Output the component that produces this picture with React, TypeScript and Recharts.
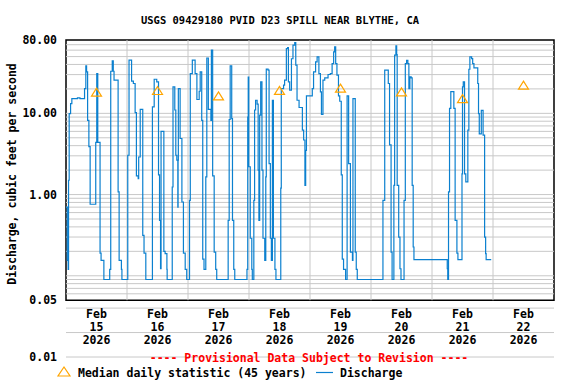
import { ComposedChart, Line, Scatter, XAxis, YAxis, ReferenceLine, ReferenceArea } from 'recharts';

// hours since Feb 15 00:00
const dischargeHours = [
  0, 0.5, 0.85, 1.0, 1.25, 1.8, 2.3, 4.5, 5.5, 7.3, 7.8, 8.1, 8.5, 9.0, 9.5, 11.7, 12.1, 12.5, 13.4, 13.8,
  14.9, 17.2, 17.6, 18.2, 18.6, 18.9, 20.5, 20.9, 21.8, 22.0, 24.3, 24.8, 25.8, 26.5, 27.2, 27.7, 28.4, 28.6, 29.2, 30.2,
  30.7, 31.4, 34.0, 34.7, 35.7, 36.4, 36.8, 37.2, 37.4, 38.5, 39.0, 39.7, 39.8, 41.8, 42.1, 42.8, 43.2, 43.6, 44.0, 44.1,
  44.2, 44.9, 45.6, 46.2, 46.9, 47.5, 48.6, 48.9, 49.7, 50.8, 51.5, 52.4, 52.8, 53.4, 53.8, 54.3, 55.0, 55.4, 56.0, 57.0,
  57.2, 57.7, 58.3, 58.9, 59.3, 63.8, 64.2, 64.6, 65.2, 65.5, 66.0, 66.4, 71.2, 71.5, 71.7, 71.9, 72.5, 73.1, 73.3, 73.9,
  74.2, 74.6, 75.2, 75.6, 75.9, 76.2, 76.6, 77.1, 77.5, 78.2, 78.6, 78.8, 79.5, 79.9, 80.4, 80.8, 81.2, 81.6, 82.2, 82.6,
  84.5, 84.7, 85.6, 86.0, 86.7, 87.2, 87.5, 88.0, 88.7, 89.3, 90.0, 90.4, 90.9, 91.7, 93.0, 93.5, 94.0, 94.3, 94.6, 96.9,
  97.4, 98.2, 98.8, 99.5, 100.1, 100.5, 101.1, 101.8, 103.1, 104.0, 104.7, 105.3, 105.7, 106.1, 106.6, 107.2, 107.7, 108.3, 108.7, 109.2,
  110.0, 110.6, 111.2, 111.9, 112.7, 112.9, 113.8, 114.2, 114.6, 124.7, 125.4, 126.8, 127.3, 127.9, 128.3, 129.0, 129.3, 129.8, 130.1, 130.3,
  130.9, 131.4, 131.8, 133.0, 133.5, 134.0, 134.5, 134.9, 135.3, 135.8, 136.2, 136.6, 136.9, 150.0, 150.2, 150.5, 150.9, 151.4, 152.6, 153.1,
  153.8, 154.2, 155.8, 156.0, 156.3, 156.8, 157.3, 158.1, 158.5, 158.9, 159.6, 160.0, 160.5, 162.0, 162.3, 162.6, 163.4, 164.1, 164.7, 165.1,
  165.3, 167.3,
];

const dischargeCfs = [
  0.7, 0.155, 0.12, 1.5, 9.9, 13.2, 15.2, 15.5, 15.2, 20.2, 38.5, 32.4, 8.2, 3.9, 0.76, 4.4, 30.9, 4.4, 0.19, 0.155,
  0.09, 0.12, 33, 44.3, 33, 25.6, 1.08, 0.155, 0.12, 0.09, 3.05, 45.2, 24.9, 23.3, 10.2, 1.7, 1.57, 2.9, 11.2, 0.315,
  0.19, 0.09, 12, 26.3, 24.4, 1.75, 0.48, 0.122, 6.0, 0.2, 0.187, 0.12, 0.09, 1.24, 21.2, 11, 3.05, 2.65, 0.7, 2.65,
  20.2, 4.9, 0.81, 0.19, 0.12, 0.09, 0.85, 30.9, 45.2, 30.9, 14.8, 18.7, 32.4, 8.2, 0.16, 0.12, 1.65, 48, 11.2, 8.2,
  60, 1.7, 0.196, 0.12, 0.09, 0.48, 8.4, 38.5, 8.6, 0.48, 0.12, 0.09, 0.12, 9, 28, 2.2, 0.29, 0.12, 0.09, 0.85,
  11, 14.5, 13, 2.0, 0.48, 9.5, 24.4, 2.0, 0.29, 0.155, 1.65, 35, 34, 2.4, 0.29, 0.155, 14.5, 0.29, 0.12, 0.09,
  1.2, 20.2, 22.2, 25.6, 62.8, 64.7, 24.4, 19.3, 47, 69, 74.5, 39.2, 14.5, 11.8, 6.2, 4.7, 1.3, 3.5, 16.4, 20.2,
  32.4, 43, 49.6, 30.9, 18.4, 9.7, 25.6, 27.4, 30.1, 30.9, 41, 57, 66, 41, 29.5, 16.4, 14.1, 1.75, 0.16, 0.12,
  0.09, 16.4, 2.4, 0.196, 0.155, 15.2, 0.196, 0.12, 0.09, 0.85, 34, 23.3, 4.1, 0.196, 0.09, 1.3, 52, 68, 53, 1.3,
  0.3, 0.122, 0.09, 0.85, 41, 45, 41, 20.2, 28.1, 27.4, 1.3, 0.226, 0.158, 0.122, 0.09, 1.08, 11.5, 18.5, 11.5, 0.48,
  0.19, 0.158, 1.8, 21.2, 24.4, 1.8, 1.43, 6.2, 34.9, 49.6, 47.3, 41, 36.3, 23.3, 9.9, 5.6, 10.9, 5.4, 0.3, 0.187,
  0.158, 0.158,
];

const medianHours = [12, 36, 60, 84, 108, 132, 156, 180];
const medianCfs = [18.2, 19.1, 16.4, 19.2, 20.4, 18.4, 15.2, 22.2];

const dayTicks = [12, 36, 60, 84, 108, 132, 156, 180];
const dayLabels = ['15', '16', '17', '18', '19', '20', '21', '22'];
const midnights = [24, 48, 72, 96, 120, 144, 168];
const yTicks = [0.01, 0.05, 1, 10, 80];
const gridCfs = [
  70, 60, 50, 40, 30, 20, 10, 9, 8, 7, 6, 5, 4, 3, 2, 1, 0.9, 0.8, 0.7, 0.6, 0.5, 0.4, 0.3, 0.2,
  0.1, 0.09, 0.08, 0.07, 0.06, 0.04, 0.02, 0.01,
];

const discharge = dischargeHours.map((h, i) => ({ h, q: dischargeCfs[i] }));
const medians = medianHours.map((h, i) => ({ h, m: medianCfs[i] }));

const FONT = "'DejaVu Sans Mono', monospace";
const BLUE = '#0b80cf';
const ORANGE = '#ffa500';
const GRID = '#c8c8c8';

function Triangle(props: any) {
  const { cx, cy } = props;
  return (
    <path
      d={`M${cx - 5},${cy + 4} L${cx + 5},${cy + 4} L${cx},${cy - 4} Z`}
      fill='none'
      stroke={ORANGE}
      strokeWidth={1.2}
    />
  );
}

function DayTick(props: any) {
  const { x, index } = props;
  const style = { fontFamily: FONT, fontWeight: 'bold', fontSize: 11.5 } as const;
  return (
    <g>
      <text x={x} y={318} textAnchor='middle' fill='#000' style={style}>Feb</text>
      <text x={x} y={331} textAnchor='middle' fill='#000' style={style}>{dayLabels[index]}</text>
      <text x={x} y={344} textAnchor='middle' fill='#000' style={style}>2026</text>
    </g>
  );
}

function CfsTick(props: any) {
  const { y, payload } = props;
  return (
    <text x={57} y={y + 4} textAnchor='end' fill='#000' style={{ fontFamily: FONT, fontWeight: 'bold', fontSize: 11.5 }}>
      {Number(payload.value).toFixed(2)}
    </text>
  );
}

export default function App() {
  const bold = { fontFamily: FONT, fontWeight: 'bold', fontSize: 11.5 } as const;
  return (
    <div style={{ position: 'absolute', left: 0, top: 0, width: 576, height: 384, background: '#fff' }}>
      <ComposedChart width={576} height={384} data={discharge} margin={{ top: 40, right: 22, bottom: 0, left: 0 }}>
        <XAxis
          dataKey='h'
          type='number'
          domain={[0, 192]}
          ticks={dayTicks}
          height={27}
          axisLine={false}
          tickLine={false}
          tick={<DayTick />}
          interval={0}
          allowDataOverflow
        />
        <YAxis
          type='number'
          scale='log'
          domain={[0.01, 80]}
          ticks={yTicks}
          width={66}
          axisLine={false}
          tickLine={false}
          tick={<CfsTick />}
          interval={0}
          allowDataOverflow
        />
        {gridCfs.map((v) => (
          <ReferenceLine key={'g' + v} y={v} stroke={GRID} strokeWidth={1} ifOverflow='extendDomain' />
        ))}
        {midnights.map((h) => (
          <ReferenceLine
            key={'d' + h}
            segment={[{ x: h, y: 0.05 }, { x: h, y: 80 }]}
            stroke={GRID}
            strokeWidth={1}
          />
        ))}
        <Line
          dataKey='q'
          type='stepAfter'
          stroke={BLUE}
          strokeWidth={1.2}
          dot={false}
          isAnimationActive={false}
        />
        <Scatter data={medians} dataKey='m' shape={<Triangle />} isAnimationActive={false} />
        <ReferenceArea x1={0} x2={192} y1={0.05} y2={80} fill='none' stroke='#000' strokeWidth={1.5} />
      </ComposedChart>
      <svg width={576} height={384} style={{ position: 'absolute', left: 0, top: 0, pointerEvents: 'none' }}>
        <text x={280} y={24} textAnchor='middle' style={{ ...bold, fontSize: 10.5 }}>
          USGS 09429180 PVID D23 SPILL NEAR BLYTHE, CA
        </text>
        <text x={16} y={174} textAnchor='middle' transform='rotate(-90 16 174)' style={bold}>
          Discharge, cubic feet per second
        </text>
        <text x={309} y={362} textAnchor='middle' fill='#ff0000' style={bold}>
          ---- Provisional Data Subject to Revision ----
        </text>
        <path d='M58,376 L70,376 L64,367 Z' fill='none' stroke={ORANGE} strokeWidth={1.2} />
        <text x={78} y={377} style={bold}>Median daily statistic (45 years)</text>
        <line x1={316} y1={372.5} x2={333} y2={372.5} stroke={BLUE} strokeWidth={1.2} />
        <text x={340} y={377} style={bold}>Discharge</text>
      </svg>
    </div>
  );
}
